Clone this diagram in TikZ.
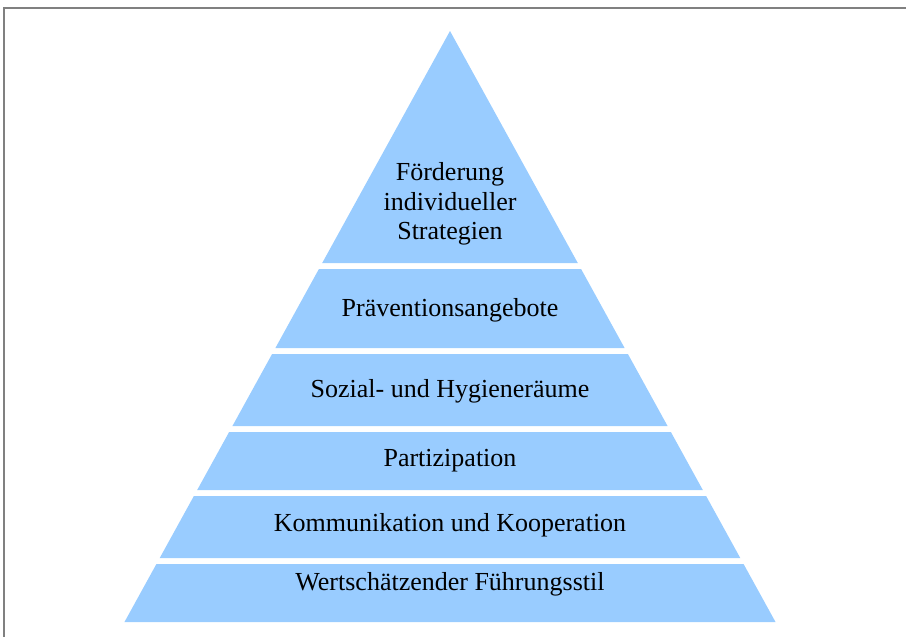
\documentclass[tikz,border=0pt]{standalone}
\usepackage{fontspec}
\setmainfont{Liberation Serif}
\usepackage{tikz}

\definecolor{pyramidblue}{HTML}{99CCFF}
\tikzset{
    layer/.style={fill=pyramidblue, draw=none},
    label/.style={font=\fontsize{26}{29.5}\selectfont, align=center, text=black}
}

\begin{document}
\begin{tikzpicture}[x=1pt,y=-1pt]
    \useasboundingbox (0,0) rectangle (906,637);
    \draw[gray, line width=2pt] (4,637) -- (4,7.5) -- (906,7.5);
    \fill[layer] (450,31) -- ({450+0.5508*232},263) -- ({450-0.5508*232},263) -- cycle;
    \foreach \top/\bot in {269/348, 354/426, 432/490, 496/558, 564/622}
        \fill[layer] ({450-0.5508*(\top-31)},\top) -- ({450+0.5508*(\top-31)},\top)
            -- ({450+0.5508*(\bot-31)},\bot) -- ({450-0.5508*(\bot-31)},\bot) -- cycle;
    \node[label] (foerderung) at (450,204) {Förderung\\individueller\\Strategien};
    \node[label] (praevention) at (450,310) {Präventionsangebote};
    \node[label] (raeume) at (450,391) {Sozial- und Hygieneräume};
    \node[label] (partizipation) at (450,461) {Partizipation};
    \node[label] (kommunikation) at (450,525) {Kommunikation und Kooperation};
    \node[label] (fuehrung) at (450,584) {Wertschätzender Führungsstil};
\end{tikzpicture}
\end{document}
